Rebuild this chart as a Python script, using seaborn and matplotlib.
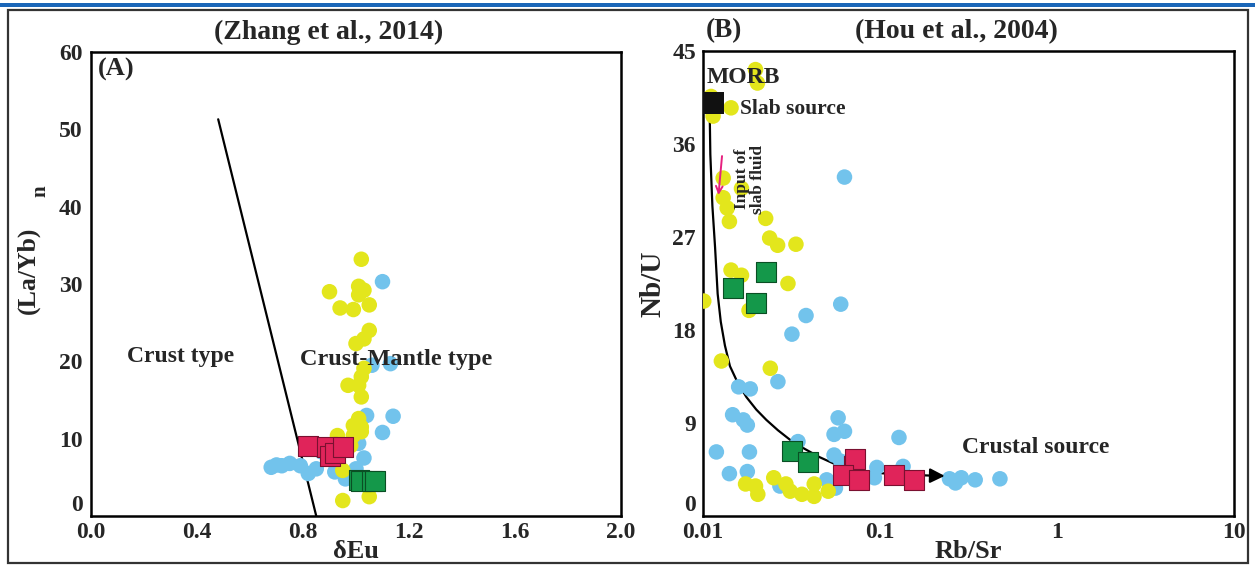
import numpy as np
import matplotlib
matplotlib.use("Agg")
import matplotlib.pyplot as plt
import seaborn as sns
from matplotlib.patches import Rectangle

# ---- Panel A data: (La/Yb)n vs dEu ----
blue_a_x = [1.10, 1.06, 1.13, 1.04, 1.14, 1.10, 1.01, 0.87, 1.03, 0.68, 0.72, 0.75, 0.79, 0.82, 0.85, 0.92, 0.96, 1.00, 0.70]
blue_a_y = [30.3, 19.5, 19.7, 13.0, 12.9, 10.8, 9.4, 8.3, 7.5, 6.3, 6.5, 6.8, 6.5, 5.5, 6.1, 5.7, 4.8, 6.1, 6.6]
yellow_a_x = [1.02, 0.90, 1.01, 1.03, 1.01, 1.05, 0.94, 0.99, 1.05, 1.03, 1.00, 1.03, 1.02, 1.01, 0.97,
              1.02, 1.01, 0.99, 1.02, 0.99, 0.93, 0.98, 0.95, 0.95, 1.05, 1.02]
yellow_a_y = [33.2, 29.0, 29.7, 29.2, 28.6, 27.3, 26.9, 26.7, 24.0, 22.9, 22.3, 19.1, 18.0, 16.9, 16.9,
              15.4, 12.6, 11.7, 10.9, 10.4, 10.4, 9.1, 5.9, 2.0, 2.5, 11.5]
red_a_x = [0.82, 0.89, 0.90, 0.92, 0.95]
red_a_y = [9.1, 8.9, 7.8, 8.1, 8.9]
green_a_x = [1.01, 1.02, 1.06, 1.07]
green_a_y = [4.6, 4.5, 4.5, 4.5]
boundary_x = [0.48, 0.85]
boundary_y = [51.3, 0.0]

# ---- Panel B data: Nb/U vs Rb/Sr ----
yellow_b_x = [0.0198, 0.0203, 0.0111, 0.0114, 0.0144, 0.0130, 0.0165, 0.0130, 0.0137, 0.0141, 0.0226,
              0.0238, 0.0264, 0.0335, 0.0144, 0.0165, 0.0302, 0.0101, 0.0182, 0.0127, 0.0240, 0.0174,
              0.0198, 0.0204, 0.0251, 0.0294, 0.0311, 0.0362, 0.0424, 0.0425, 0.0510]
yellow_b_y = [43.2, 41.9, 40.6, 38.7, 39.5, 32.7, 31.7, 30.8, 29.8, 28.5, 28.8, 26.9, 26.2, 26.3, 23.8,
              23.3, 22.5, 20.8, 19.9, 15.0, 14.3, 3.1, 2.9, 2.1, 3.7, 3.1, 2.4, 2.1, 1.9, 3.1, 2.4]
blue_b_x = [0.063, 0.060, 0.0382, 0.0318, 0.0265, 0.0159, 0.0185, 0.0147, 0.0169, 0.0178, 0.0119, 0.0183,
            0.0141, 0.0178, 0.0344, 0.058, 0.055, 0.063, 0.128, 0.055, 0.060, 0.096, 0.135, 0.093,
            0.0272, 0.050, 0.056, 0.247, 0.267, 0.288, 0.345, 0.476]
blue_b_y = [32.8, 20.5, 19.4, 17.6, 13.0, 12.5, 12.3, 9.8, 9.3, 8.8, 6.2, 6.2, 4.1, 4.3, 7.2, 9.5, 7.9,
            8.2, 7.6, 5.9, 5.3, 4.7, 4.8, 3.7, 2.9, 3.5, 2.7, 3.6, 3.2, 3.7, 3.5, 3.6]
green_b_x = [0.0148, 0.0228, 0.0198, 0.0318, 0.0392]
green_b_y = [22.1, 23.6, 20.6, 6.3, 5.2]
red_b_x = [0.0717, 0.0724, 0.0617, 0.0765, 0.120, 0.155]
red_b_y = [4.8, 5.5, 4.0, 3.5, 4.0, 3.5]
morb_x = [0.01146]
morb_y = [40.0]
trend_x = [0.0109, 0.0110, 0.0113, 0.0117, 0.0121, 0.0126, 0.0133, 0.0142, 0.0157, 0.0176, 0.0200,
           0.0228, 0.0265, 0.0309, 0.0375, 0.0455, 0.0544, 0.0644, 0.080, 0.099, 0.125, 0.152, 0.200]
trend_y = [39.6, 35.0, 30.0, 26.0, 21.5, 18.8, 16.5, 14.5, 12.9, 11.5, 10.3, 9.3, 8.3, 7.4, 6.5, 5.7,
           5.1, 4.6, 4.35, 4.15, 4.05, 3.98, 3.9]

# colours
c_yellow = '#e3e61c'
c_blue = '#72c3ec'
c_red = '#e0245a'
c_green = '#14984a'

sns.set_style("white")
plt.rcParams['font.family'] = ['Liberation Serif', 'DejaVu Serif']
plt.rcParams['font.weight'] = 'bold'

fig = plt.figure(figsize=(12.55, 5.65), dpi=100)
axA = fig.add_axes([91 / 1255, 49 / 565, 530 / 1255, 464 / 565])
axB = fig.add_axes([703 / 1255, 49 / 565, 531 / 1255, 465 / 565])

circ = dict(s=125, edgecolor='none', linewidth=0, legend=False, zorder=3)
sq = dict(marker='s', s=215, linewidth=0.8, legend=False, zorder=4)

# Panel A
sns.lineplot(x=boundary_x, y=boundary_y, ax=axA, color='black', linewidth=1.6, sort=False, estimator=None)
sns.scatterplot(x=blue_a_x, y=blue_a_y, ax=axA, color=c_blue, **circ)
sns.scatterplot(x=yellow_a_x, y=yellow_a_y, ax=axA, color=c_yellow, **circ)
sns.scatterplot(x=red_a_x, y=red_a_y, ax=axA, color=c_red, edgecolor='#7a1030', **sq)
sns.scatterplot(x=green_a_x, y=green_a_y, ax=axA, color=c_green, edgecolor='#0a4f24', **sq)

axA.set_xlim(0, 2.0)
axA.set_ylim(0, 60)
axA.set_xticks(np.arange(0, 2.01, 0.4))
axA.set_xticklabels(['0.0', '0.4', '0.8', '1.2', '1.6', '2.0'])
axA.set_yticks(np.arange(0, 61, 10))
axA.tick_params(axis='x', direction='in', length=6, width=1.2, labelsize=17, pad=4)
axA.tick_params(axis='y', direction='out', length=5, width=1.2, labelsize=17, pad=1)
axA.set_xlabel('δEu', fontsize=19, fontweight='bold', labelpad=-2)
axA.set_ylabel('(La/Yb)', fontsize=18.5, fontweight='bold')
axA.yaxis.set_label_coords(-0.097, 0.53)
fig.text(40 / 1255, 1 - 191 / 565, 'n', fontsize=15, fontweight='bold', rotation=90, ha='center', va='center')
axA.text(0.136, 20.6, 'Crust type', fontsize=17, fontweight='bold', ha='left', va='center', zorder=5)
axA.text(1.15, 20.3, 'Crust-Mantle type', fontsize=17.5, fontweight='bold', ha='center', va='center', zorder=5)
axA.text(0.025, 57.7, '(A)', fontsize=19, fontweight='bold', ha='left', va='center', zorder=5)

# Panel B
sns.lineplot(x=trend_x, y=trend_y, ax=axB, color='black', linewidth=1.6, sort=False, estimator=None)
axB.annotate('', xy=(0.232, 3.88), xytext=(trend_x[-1], trend_y[-1]),
             arrowprops=dict(arrowstyle='-|>', color='black', lw=1.6, mutation_scale=22,
                             shrinkA=0, shrinkB=0), zorder=5)
sns.scatterplot(x=blue_b_x, y=blue_b_y, ax=axB, color=c_blue, **circ)
sns.scatterplot(x=yellow_b_x, y=yellow_b_y, ax=axB, color=c_yellow, **circ)
sns.scatterplot(x=green_b_x, y=green_b_y, ax=axB, color=c_green, edgecolor='#0a4f24', **sq)
sns.scatterplot(x=red_b_x, y=red_b_y, ax=axB, color=c_red, edgecolor='#7a1030', **sq)
sns.scatterplot(x=morb_x, y=morb_y, ax=axB, color='#111111', marker='s', s=250, linewidth=0,
                legend=False, zorder=5)
axB.annotate('', xy=(0.01219, 30.8), xytext=(0.01285, 35.1),
             arrowprops=dict(arrowstyle='->', color='#e6207f', lw=1.4, mutation_scale=12), zorder=6)

axB.set_xscale('log')
axB.set_xlim(0.01, 10)
axB.set_ylim(0, 45)
axB.set_xticks([0.01, 0.1, 1, 10])
axB.set_xticklabels(['0.01', '0.1', '1', '10'])
axB.set_yticks(np.arange(0, 46, 9))
axB.tick_params(axis='x', which='major', direction='in', length=9, width=1.2, labelsize=17, pad=4)
axB.tick_params(axis='x', which='minor', direction='in', length=5, width=1.0)
axB.tick_params(axis='y', direction='inout', length=8, width=1.2, labelsize=17, pad=1)
axB.set_xlabel('Rb/Sr', fontsize=19, fontweight='bold', labelpad=-2)
axB.set_ylabel('Nb/U', fontsize=21, fontweight='bold', labelpad=4)
axB.text(0.0105, 42.4, 'MORB', fontsize=17, fontweight='bold', ha='left', va='center', zorder=6)
axB.text(0.0162, 39.4, 'Slab source', fontsize=15.5, fontweight='bold', ha='left', va='center', zorder=6)
axB.text(0.0184, 32.6, 'Input of\nslab fluid', fontsize=12.5, fontweight='bold', rotation=90,
         ha='center', va='center', linespacing=0.95, zorder=6)
axB.text(0.755, 6.6, 'Crustal source', fontsize=17, fontweight='bold', ha='center', va='center', zorder=6)

# lift the "0" labels off the x tick labels
for ax in (axA, axB):
    ax.yaxis.get_major_ticks()[0].label1.set_va('bottom')
    for sp in ax.spines.values():
        sp.set_linewidth(1.8)
        sp.set_color('black')
    ax.grid(False)

# panel titles
fig.text(329 / 1255, 1 - 32 / 565, '(Zhang et al., 2014)', fontsize=20, fontweight='bold', ha='center', va='center')
fig.text(956 / 1255, 1 - 32 / 565, '(Hou et al., 2004)', fontsize=20, fontweight='bold', ha='center', va='center')
fig.text(724 / 1255, 1 - 31 / 565, '(B)', fontsize=19.5, fontweight='bold', ha='center', va='center')

# outer frame and blue rule at the top
fig.patches.append(Rectangle((0, 1 - 7 / 565), 1, 4 / 565, transform=fig.transFigure,
                             facecolor='#1a66b8', edgecolor='none', zorder=0))
fig.patches.append(Rectangle((8 / 1255, 2 / 565), 1240 / 1255, 553 / 565, transform=fig.transFigure,
                             fill=False, edgecolor='#333333', linewidth=1.6, zorder=0))

fig.savefig('out.png', dpi=100)
